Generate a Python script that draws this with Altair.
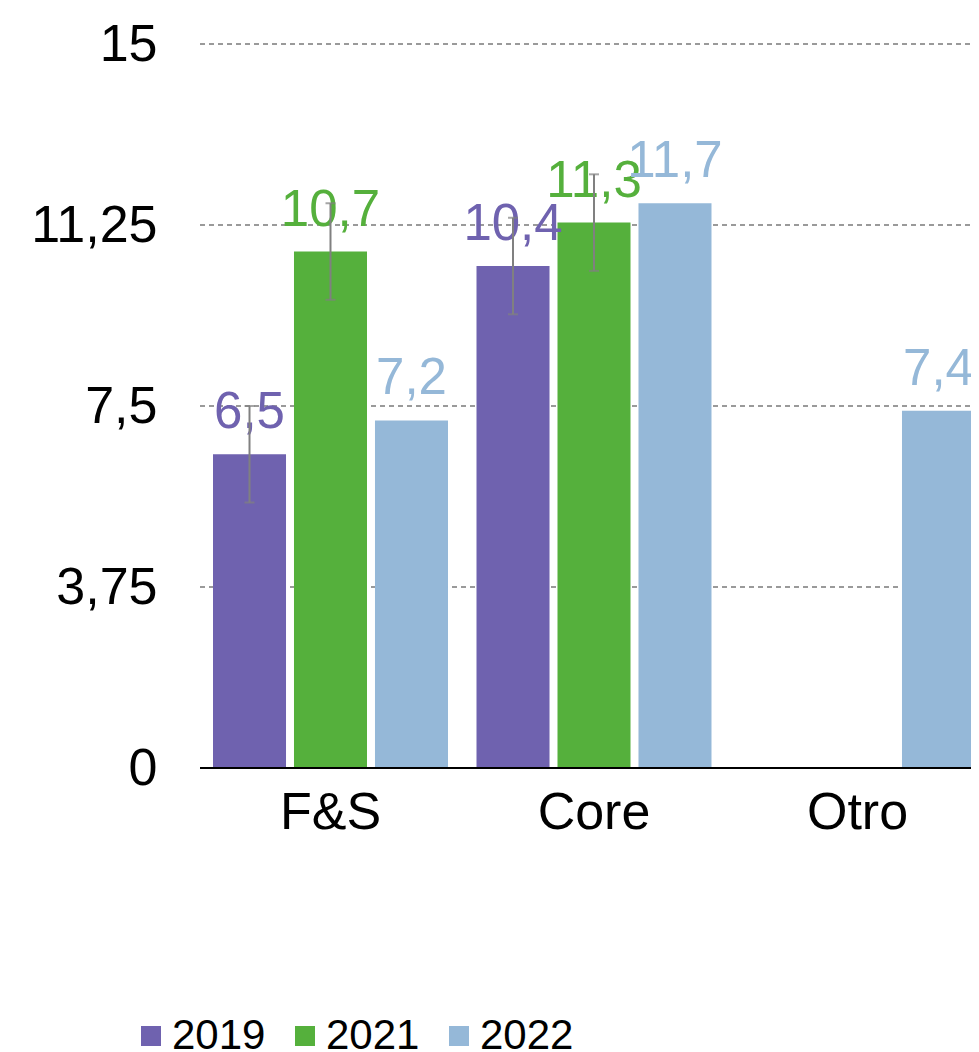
import altair as alt
import pandas as pd

categories = ["F&S", "Core", "Otro"]
years = ["2019", "2021", "2022"]
values_2019 = [6.5, 10.4, None]
values_2021 = [10.7, 11.3, None]
values_2022 = [7.2, 11.7, 7.4]
err_2019 = [1.0, 1.0, None]
err_2021 = [1.0, 1.0, None]
err_2022 = [None, None, None]
y_ticks = [0, 3.75, 7.5, 11.25, 15]
colors = ["#6F62AF", "#55B03C", "#95B8D8"]

rows = []
for yr, vals, errs in zip(years, [values_2019, values_2021, values_2022], [err_2019, err_2021, err_2022]):
    for cat, v, e in zip(categories, vals, errs):
        if v is None:
            continue
        rows.append({
            "cat": cat, "year": yr, "value": v,
            "label": f"{v:.1f}".replace(".", ","),
            "lo": v - e if e is not None else None,
            "hi": v + e if e is not None else None,
        })
df = pd.DataFrame(rows)
grid_df = pd.DataFrame({"v": y_ticks[1:]})
zero_df = pd.DataFrame({"v": y_ticks[:1]})

FONT = "Liberation Sans"
W, H = 771, 724

x_enc = alt.X("cat:N", sort=categories, title=None,
              scale=alt.Scale(paddingInner=0.1082, paddingOuter=0, range=[13, 775]),
              axis=alt.Axis(labelAngle=0, labelFontSize=52, labelColor="#000000", labelPadding=19,
                            ticks=False, domain=False, grid=False, labelFont=FONT,
                            labelFontWeight="normal"))
xo_enc = alt.XOffset("year:N", sort=years, scale=alt.Scale(paddingInner=0.0985, paddingOuter=0))
y_scale = alt.Scale(domain=[0, 15], nice=False)

base = alt.Chart(df)

grid = alt.Chart(grid_df).mark_rule(color="#9A9A9A", strokeWidth=2, strokeDash=[5, 4]).encode(
    y=alt.Y("v:Q", scale=y_scale),
    x=alt.value(0), x2=alt.value(W),
)

bars = base.mark_bar().encode(
    x=x_enc,
    xOffset=xo_enc,
    y=alt.Y("value:Q", scale=y_scale, title=None,
            axis=alt.Axis(values=y_ticks, labelExpr="replace(toString(datum.value), '.', ',')",
                          labelFontSize=52, labelColor="#000000", labelPadding=43, ticks=False,
                          domain=False, grid=False, labelFont=FONT)),
    color=alt.Color("year:N", sort=years, scale=alt.Scale(domain=years, range=colors), title=None,
                    legend=alt.Legend(orient="none", direction="horizontal", legendX=-70, legendY=971,
                                      symbolType="square", symbolSize=400, symbolStrokeWidth=0,
                                      labelFontSize=42, labelColor="#000000", labelOffset=0,
                                      columnPadding=18, padding=0, labelFont=FONT)),
)

zero_line = alt.Chart(zero_df).mark_rule(color="#000000", strokeWidth=2).encode(
    y=alt.Y("v:Q", scale=y_scale),
    x=alt.value(0), x2=alt.value(W),
)

texts = base.mark_text(fontSize=51, dy=-26, baseline="alphabetic", align="center", font=FONT).encode(
    x=alt.X("cat:N", sort=categories),
    xOffset=xo_enc,
    y=alt.Y("value:Q", scale=y_scale),
    text="label:N",
    color=alt.Color("year:N", sort=years, legend=None),
)

err = base.transform_filter("isValid(datum.lo)")
rules = err.mark_rule(color="#808080", strokeWidth=2).encode(
    x=alt.X("cat:N", sort=categories),
    xOffset=xo_enc,
    y=alt.Y("lo:Q", scale=y_scale),
    y2="hi:Q",
)
caps_lo = err.mark_tick(color="#808080", orient="horizontal", size=10, thickness=2).encode(
    x=alt.X("cat:N", sort=categories),
    xOffset=xo_enc,
    y=alt.Y("lo:Q", scale=y_scale),
)
caps_hi = err.mark_tick(color="#808080", orient="horizontal", size=10, thickness=2).encode(
    x=alt.X("cat:N", sort=categories),
    xOffset=xo_enc,
    y=alt.Y("hi:Q", scale=y_scale),
)

chart = alt.layer(grid, bars, zero_line, texts, rules, caps_lo, caps_hi).properties(
    width=W, height=H,
    padding={"left": 192, "top": 36, "right": 0, "bottom": 282},
    autosize=alt.AutoSizeParams(type="none"),
).configure(font=FONT, background="#FFFFFF").configure_view(stroke=None)

chart.save("out.html", embed_options={"renderer": "svg", "actions": False})
